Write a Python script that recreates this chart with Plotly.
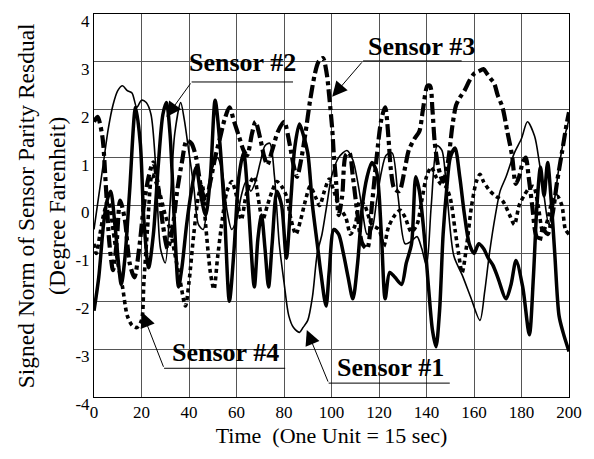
import plotly.graph_objects as go

# ---- data (x = time units, y = residual) ----
sensor1 = [(0,-0.5),(2,0.2),(4,0.9),(6,1.6),(8,2.1),(10,2.4),(12,2.5),(14,2.4),(16,2.35),(18,2.05),(20,2.2),(22,2.15),(24,1.9),(26,0.8),(28,-0.9),(30,-1.2),(32,0.0),(34,1.5),(36.5,2.15),(38,1.8),(40,1.1),(42,0.4),(44,-0.4),(46,-0.5),(48,0.2),(50,0.8),(52,1.0),(54,0.7),(56,-0.1),(58,-0.5),(60,-0.3),(62,0.2),(64,0.5),(66,0.3),(68,0.5),(70,0.9),(72,1.25),(74,1.3),(76,0.6),(78,-0.8),(80,-1.6),(82,-2.3),(84,-2.55),(86.5,-2.65),(88,-2.55),(90,-2.4),(92,-1.9),(94,-1.0),(96,-0.6),(98,0.0),(100,0.6),(103,1.0),(106.5,1.15),(109,0.95),(111,0.5),(113,-0.1),(115,-0.6),(117,-0.5),(119,0.1),(121,0.7),(123,1.05),(125.5,1.1),(128,0.2),(131,-0.8),(133.5,-0.75),(136,-0.65),(138,-0.9),(140,-1.25),(142,0.0),(144.5,1.25),(146.5,1.15),(148.5,0.3),(151.5,-1.05),(155,-1.45),(158.5,-1.9),(162.5,-2.4),(164.5,-1.8),(166.5,-1.0),(169,-0.2),(171,0.3),(173.5,0.6),(177,1.1),(180,1.4),(182.5,1.75),(185.5,1.45),(187.5,0.9),(189.5,0.2),(191.5,-0.4),(193.5,0.0),(195.5,0.7),(197.5,1.3),(200,1.8)]

sensor2 = [(0,-2.2),(2,-1.5),(4,-0.4),(5.5,0.1),(7,0.3),(9,-0.5),(11.5,-1.65),(13,-1.1),(15,0.3),(17.5,2.05),(19.5,1.3),(21,-0.3),(23,-1.3),(25,-0.6),(27,0.8),(29,1.9),(30.5,2.15),(32,1.5),(34,-0.5),(35.6,-1.7),(37,-1.3),(39,-0.4),(41,0.3),(43,0.8),(45,0.2),(47,-0.2),(49,0.6),(51,2.2),(53,1.3),(55,-0.2),(57,-2.0),(59,-0.9),(61,0.6),(63,1.1),(65,0.0),(67.5,-1.7),(69,-0.7),(70.5,-0.2),(72,-0.9),(73.5,-1.7),(75,-0.8),(77,0.3),(79,0.0),(81,-1.1),(83,0.2),(84.5,1.2),(86.5,1.7),(88,1.5),(90,1.1),(92,0.0),(94,-0.8),(95.5,-1.4),(97.7,-2.1),(99,-1.4),(101,-0.5),(103,-0.6),(105,-1.0),(107,-1.5),(109,-1.95),(111,-1.2),(113,0.0),(115,0.6),(117,0.9),(119,0.7),(121,-0.6),(122.6,-1.95),(124.5,-1.4),(126.7,-1.5),(129.5,-1.65),(131.5,-1.2),(133.7,-0.8),(135.5,0.6),(137,0.3),(139,-0.6),(141,-1.8),(142.5,-2.6),(144,-2.95),(145.5,-2.2),(147,-0.6),(148.6,0.4),(150,1.0),(152,1.2),(154,0.6),(156,-0.2),(158,-0.8),(160,-1.0),(162,-0.8),(164,-0.9),(166,-1.1),(168,-1.25),(170,-1.5),(173.5,-1.95),(175.6,-1.65),(177.7,-1.15),(180.5,-1.7),(183.3,-2.7),(185,-1.5),(186.5,0.0),(188,0.8),(189.5,0.2),(191,0.9),(192.5,0.1),(194,-1.0),(195.8,-2.3),(197.5,-2.65),(200,-3.05)]

sensor3 = [(0,1.75),(1.5,1.85),(3.5,1.45),(5,0.4),(6.5,-0.8),(8,-1.35),(9.5,-0.8),(11,0.1),(13,-0.3),(15,-1.2),(17,-1.5),(19,-0.9),(21,0.0),(23,0.6),(25,0.9),(27,0.4),(29,-0.4),(31,-0.9),(33,-0.5),(35,0.3),(37,0.9),(39,1.35),(41,1.3),(43,1.0),(45,0.4),(47,0.1),(49,0.5),(51,1.0),(53,1.4),(55,1.8),(57,2.05),(59,1.75),(61,1.45),(63,1.15),(64.5,1.05),(66.5,1.5),(68,1.75),(70,1.4),(71.5,1.05),(73,0.85),(75,1.15),(77.5,1.55),(80,1.75),(82.5,1.25),(84,0.85),(85.5,0.6),(87,0.9),(89,1.5),(91,2.2),(93,2.75),(94.5,3.0),(96.4,3.08),(98,2.75),(99,2.3),(100.3,1.6),(101,1.05),(102,0.45),(103,-0.2),(104.5,0.2),(106,1.05),(107.5,1.1),(109,0.6),(111,-0.2),(113,-0.8),(115,-0.9),(117,0.0),(119,1.0),(121,1.8),(122.6,2.05),(124,1.4),(125,0.75),(126.5,0.35),(128.5,0.3),(131,0.8),(132.5,1.15),(135,1.4),(137,1.55),(138.5,2.0),(140.4,2.5),(141.5,2.5),(142.5,2.0),(143.5,1.3),(145,0.8),(147,0.5),(149,0.9),(151,1.7),(152.5,2.1),(154,2.25),(156,2.4),(158,2.6),(160,2.75),(162,2.8),(164,2.85),(165.5,2.75),(167,2.65),(168.5,2.55),(170,2.3),(172,2.05),(174,1.55),(176,1.05),(177.6,0.45),(179,0.6),(180.5,0.9),(181.8,1.0),(183,0.6),(184.5,0.0),(186,-0.6),(187.5,-0.75),(189,-0.5),(191,-0.6),(193,-0.2),(195,0.5),(197,1.1),(199,1.7),(200,1.95)]

sensor4 = [(0,-0.8),(1,-1.0),(2.5,-0.6),(4,-0.2),(6,0.1),(8,-0.5),(10,-1.2),(12,-1.7),(14,-2.3),(16,-2.5),(18,-2.55),(20,-2.4),(21,-1.6),(22.5,-0.5),(24.5,0.65),(26,0.5),(28,0.2),(30,-0.2),(32,-0.5),(34,-1.0),(36,-1.5),(38.5,-2.1),(40,-1.6),(42,-0.6),(44,0.2),(45.5,0.45),(47,-0.4),(49,-1.4),(50.5,-1.75),(52,-1.1),(54,-0.3),(56,0.3),(58,0.5),(60,0.2),(62,-0.3),(64,0.2),(66,0.5),(67.5,0.6),(69,0.2),(71,-0.3),(73,0.0),(75,0.3),(77,0.5),(79,0.4),(81,0.2),(83,-0.3),(85,-0.6),(87,-0.3),(89,0.1),(91,0.4),(93.5,0.15),(95,0.0),(97,0.3),(99,0.55),(101,0.3),(103,0.0),(106,-0.25),(108,-0.6),(110,-0.4),(112,0.1),(114,0.0),(117,-0.4),(120,-0.5),(122,-0.85),(124,-0.45),(126.7,-0.2),(129,-0.1),(131,-0.25),(133.6,-0.55),(136,-0.4),(138,0.1),(140,0.6),(142,0.8),(144,0.6),(146,0.45),(148,0.4),(150,0.15),(152,-0.5),(153.5,-1.0),(155,-1.4),(157,-0.8),(159,0.0),(161,0.5),(162.5,0.65),(164,0.5),(166.8,0.3),(169,0.2),(172,0.1),(175,-0.2),(177,-0.4),(179,0.0),(181,0.2),(183,0.35),(185,0.4),(187,0.0),(189,-0.55),(191,-0.3),(193,0.1),(195,0.2),(197,0.0),(198.5,-0.5),(200,-0.6)]

x_ticks = list(range(0, 201, 20))
y_ticks = [-4, -3, -2, -1, 0, 1, 2, 3, 4]
y_tick_text = [str(v) for v in y_ticks]

labels = ["Sensor #1", "Sensor #2", "Sensor #3", "Sensor #4"]
x_title = "Time\u00a0\u00a0(One Unit = 15 sec)"
y_title = "Signed Norm of Sensor Parity Resdual<br>(Degree Farenheit)"

FONT = "Liberation Serif, Times New Roman, serif"

styles = [
    dict(width=1.6, dash="solid"),
    dict(width=3.5, dash="solid"),
    dict(width=4.2, dash="13px,4px,4px,4px"),
    dict(width=3.6, dash="4px,3.5px"),
]

fig = go.Figure()
for name, ser, st in zip(labels, [sensor1, sensor2, sensor3, sensor4], styles):
    xs = [p[0] for p in ser]
    ys = [p[1] for p in ser]
    fig.add_trace(go.Scatter(x=xs, y=ys, mode="lines", name=name,
                             line=dict(color="black", width=st["width"], dash=st["dash"],
                                       shape="spline", smoothing=0.8)))

# label placement: (text x, text y, underline x0, x1, underline y, arrow tail x, tail y, tip x, tip y)
ann_pos = {
    "Sensor #2": (62.4, 2.98, 41.1, 83.8, 2.58, 41.1, 2.58, 30.5, 1.85),
    "Sensor #3": (137.8, 3.33, 113.3, 154.8, 3.02, 113.3, 3.02, 100.3, 2.27),
    "Sensor #4": (55.4, -3.06, 29.5, 80.5, -3.40, 29.5, -3.40, 20.3, -2.23),
    "Sensor #1": (124.8, -3.38, 98.8, 149.8, -3.71, 98.8, -3.71, 89.6, -2.6),
}
annotations = []
shapes = []
for lab in labels:
    tx, ty, ux0, ux1, uy, ax_, ay_, hx, hy = ann_pos[lab]
    annotations.append(dict(x=tx, y=ty, xref="x", yref="y", text="<b>" + lab + "</b>",
                            showarrow=False, font=dict(family=FONT, size=26, color="black"),
                            xanchor="center", yanchor="middle"))
    annotations.append(dict(x=hx, y=hy, xref="x", yref="y", ax=ax_, ay=ay_, axref="x", ayref="y",
                            text="", showarrow=True, arrowhead=2, arrowsize=3, arrowwidth=1,
                            arrowcolor="black", standoff=0, startstandoff=0))
    shapes.append(dict(type="line", xref="x", yref="y", x0=ux0, x1=ux1, y0=uy, y1=uy,
                       line=dict(color="black", width=1)))

annotations.append(dict(x=-0.11, y=0.5, xref="paper", yref="paper", text=y_title,
                        textangle=-90, showarrow=False, xanchor="center", yanchor="middle",
                        font=dict(family=FONT, size=23.5, color="black")))

fig.update_layout(
    width=594, height=459,
    margin=dict(l=94, r=18, t=12, b=62),
    paper_bgcolor="white", plot_bgcolor="white",
    showlegend=False,
    font=dict(family=FONT, color="black", size=17),
    annotations=annotations,
    shapes=shapes,
    xaxis=dict(range=[0, 200], tickvals=x_ticks, showgrid=True, gridcolor="#555555", gridwidth=1,
               showline=True, linecolor="black", linewidth=1, mirror=True, zeroline=False,
               ticks="", tickfont=dict(family=FONT, size=17, color="black"),
               title=dict(text=x_title, font=dict(family=FONT, size=22, color="black"), standoff=6)),
    yaxis=dict(range=[-4, 4], tickvals=y_ticks, ticktext=y_tick_text, showgrid=True,
               gridcolor="#555555", gridwidth=1, showline=True, linecolor="black", linewidth=1,
               mirror=True, zeroline=False, ticks="", ticklabelshift=7,
               tickfont=dict(family=FONT, size=17, color="black")),
)

fig.write_html("out.html")
